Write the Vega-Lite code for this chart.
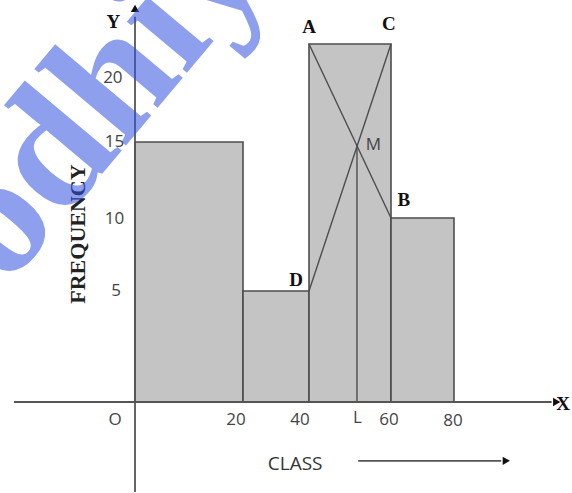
{
  "$schema": "https://vega.github.io/schema/vega-lite/v6.json",
  "width": 572,
  "height": 493,
  "padding": 0,
  "autosize": "none",
  "background": "white",
  "config": {"view": {"stroke": null}},
  "datasets": {
    "bars": [
      {"lo": 0, "hi": 20, "f": 15},
      {"lo": 20, "hi": 40, "f": 5},
      {"lo": 40, "hi": 60, "f": 22},
      {"lo": 60, "hi": 80, "f": 10}
    ],
    "segments": [
      {"seg": "AB", "x1": 40, "y1": 22, "x2": 60, "y2": 10},
      {"seg": "DC", "x1": 40, "y1": 5, "x2": 60, "y2": 22},
      {"seg": "ML", "x1": 51.7, "y1": 14.8, "x2": 51.7, "y2": 0}
    ],
    "axislines": [
      {"ax": "X", "x1": -22.4, "y1": 0, "x2": 111, "y2": 0},
      {"ax": "Y", "x1": 0, "y1": -4.05, "x2": 0, "y2": 23.6},
      {"ax": "CLASS", "x1": 52, "y1": -2.65, "x2": 95, "y2": -2.65}
    ],
    "rightheads": [
      {"x": 112.6, "y": 0},
      {"x": 96.6, "y": -2.65}
    ],
    "upheads": [
      {"x": 0, "y": 24.1}
    ],
    "ticklabels": [
      {"x": -3.7, "y": -0.8, "t": "O"},
      {"x": 18.7, "y": -0.8, "t": "20"},
      {"x": 37.3, "y": -0.8, "t": "40"},
      {"x": 51.8, "y": -0.7, "t": "L"},
      {"x": 59.5, "y": -0.8, "t": "60"},
      {"x": 79.7, "y": -0.85, "t": "80"},
      {"x": -4.1, "y": 20, "t": "20"},
      {"x": -3.8, "y": 15, "t": "15"},
      {"x": -3.8, "y": 9.9, "t": "10"},
      {"x": -3.5, "y": 5, "t": "5"},
      {"x": 55.7, "y": 14.8, "t": "M"}
    ],
    "points": [
      {"x": 40, "y": 23, "t": "A"},
      {"x": 59.5, "y": 23.2, "t": "C"},
      {"x": 64.1, "y": 11.2, "t": "B"},
      {"x": 36.1, "y": 5.75, "t": "D"},
      {"x": -4, "y": 23.3, "t": "Y"},
      {"x": 114.6, "y": -0.1, "t": "X"}
    ],
    "titles": [
      {"x": 35.8, "y": -2.8, "t": "CLASS"}
    ],
    "ytitle": [
      {"x": -10.6, "y": 8.9, "t": "FREQUENCY"}
    ],
    "watermark": [
      {"x": -37.5, "y": 1.17, "t": "Bodhiyaa"}
    ]
  },
  "layer": [
    {
      "data": {"name": "bars"},
      "mark": {"type": "rect", "fill": "#c4c4c4", "stroke": "#4d4d4d", "strokeWidth": 1.6},
      "encoding": {
        "x": {"field": "lo", "type": "quantitative", "axis": null,
              "scale": {"domain": [0, 20, 40, 60, 80], "range": [135, 243, 309, 391, 454], "nice": false, "zero": false}},
        "x2": {"field": "hi"},
        "y": {"field": "f", "type": "quantitative", "axis": null,
              "scale": {"domain": [0, 5, 10, 15, 20, 22], "range": [402, 291, 218, 142, 78, 44], "nice": false, "zero": false}},
        "y2": {"datum": 0}
      }
    },
    {
      "data": {"name": "segments"},
      "mark": {"type": "rule", "stroke": "#4d4d4d", "strokeWidth": 1.4},
      "encoding": {
        "x": {"field": "x1", "type": "quantitative"},
        "x2": {"field": "x2"},
        "y": {"field": "y1", "type": "quantitative"},
        "y2": {"field": "y2"}
      }
    },
    {
      "data": {"name": "axislines"},
      "mark": {"type": "rule", "stroke": "#555555", "strokeWidth": 1.8},
      "encoding": {
        "x": {"field": "x1", "type": "quantitative"},
        "x2": {"field": "x2"},
        "y": {"field": "y1", "type": "quantitative"},
        "y2": {"field": "y2"}
      }
    },
    {
      "data": {"name": "rightheads"},
      "mark": {"type": "point", "shape": "triangle-right", "filled": true, "color": "#111111", "size": 70, "opacity": 1},
      "encoding": {
        "x": {"field": "x", "type": "quantitative"},
        "y": {"field": "y", "type": "quantitative"}
      }
    },
    {
      "data": {"name": "upheads"},
      "mark": {"type": "point", "shape": "triangle-up", "filled": true, "color": "#111111", "size": 70, "opacity": 1},
      "encoding": {
        "x": {"field": "x", "type": "quantitative"},
        "y": {"field": "y", "type": "quantitative"}
      }
    },
    {
      "data": {"name": "ticklabels"},
      "mark": {"type": "text", "font": "Open Sans", "fontSize": 17, "color": "#444444", "align": "center", "baseline": "middle"},
      "encoding": {
        "x": {"field": "x", "type": "quantitative"},
        "y": {"field": "y", "type": "quantitative"},
        "text": {"field": "t"}
      }
    },
    {
      "data": {"name": "points"},
      "mark": {"type": "text", "font": "Liberation Serif", "fontWeight": "bold", "fontSize": 19, "color": "#111111", "align": "center", "baseline": "middle"},
      "encoding": {
        "x": {"field": "x", "type": "quantitative"},
        "y": {"field": "y", "type": "quantitative"},
        "text": {"field": "t"}
      }
    },
    {
      "data": {"name": "titles"},
      "mark": {"type": "text", "font": "Open Sans", "fontSize": 19, "color": "#333333", "align": "center", "baseline": "middle"},
      "encoding": {
        "x": {"field": "x", "type": "quantitative"},
        "y": {"field": "y", "type": "quantitative"},
        "text": {"field": "t"}
      }
    },
    {
      "data": {"name": "ytitle"},
      "mark": {"type": "text", "font": "Liberation Serif", "fontWeight": "bold", "fontSize": 22, "color": "#222222", "align": "center", "baseline": "middle", "angle": -90},
      "encoding": {
        "x": {"field": "x", "type": "quantitative"},
        "y": {"field": "y", "type": "quantitative"},
        "text": {"field": "t"}
      }
    },
    {
      "data": {"name": "watermark"},
      "mark": {"type": "text", "font": "Liberation Serif", "fontWeight": "bold", "fontSize": 172, "color": "#3352e0", "opacity": 0.55, "align": "left", "baseline": "alphabetic", "angle": -50},
      "encoding": {
        "x": {"field": "x", "type": "quantitative"},
        "y": {"field": "y", "type": "quantitative"},
        "text": {"field": "t"}
      }
    }
  ]
}
